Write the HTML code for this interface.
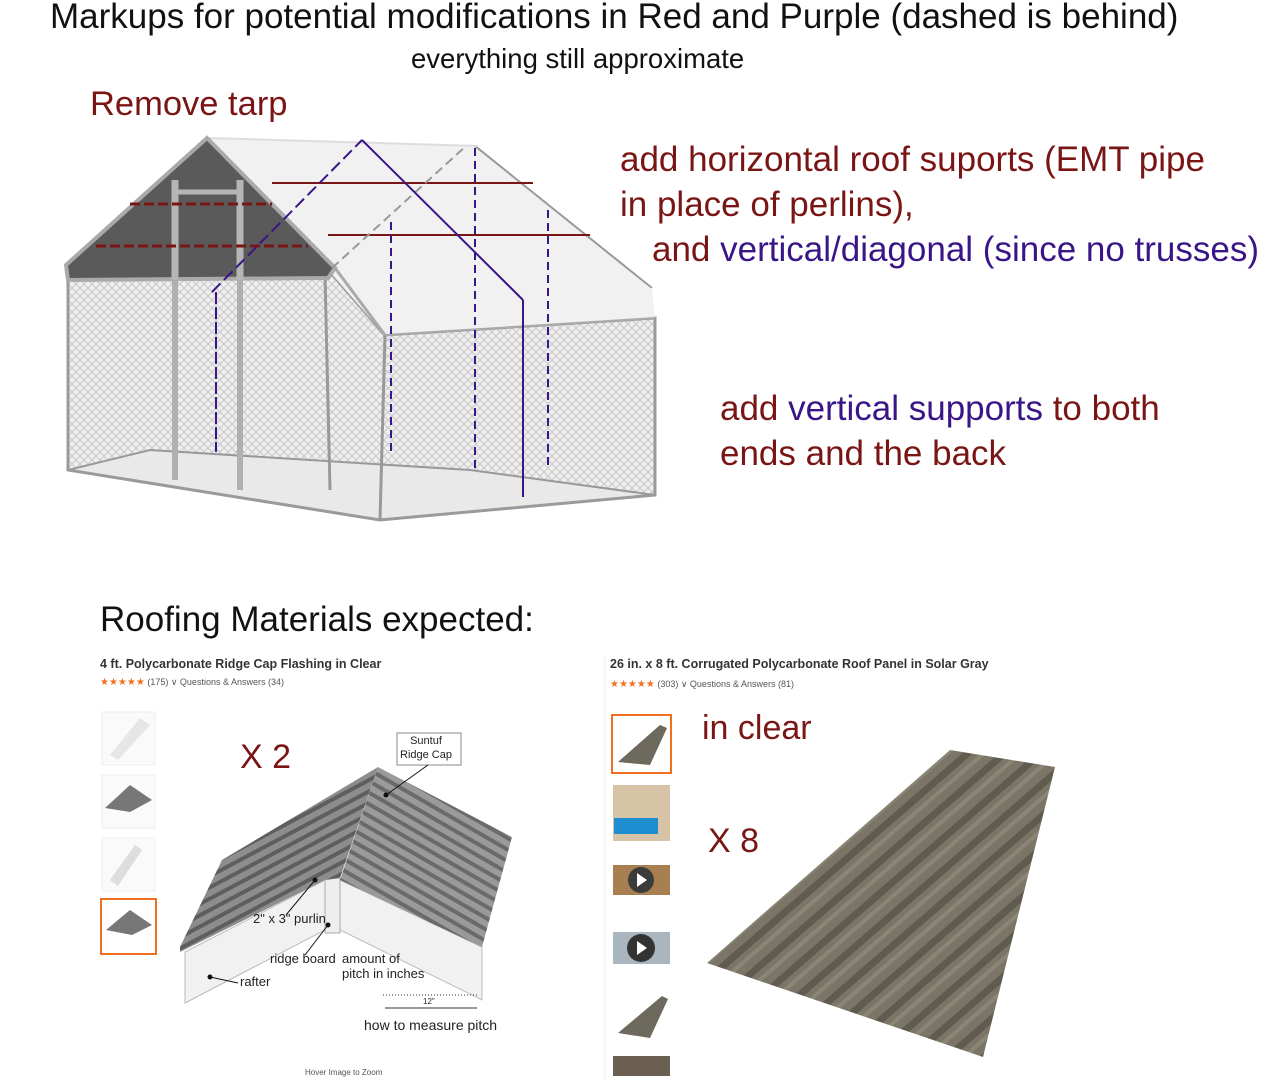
<!DOCTYPE html>
<html><head><meta charset="utf-8"><style>
html,body{margin:0;padding:0;background:#fff;}
body{width:1273px;height:1080px;overflow:hidden;position:relative;font-family:"Liberation Sans",sans-serif;}
.t{position:absolute;white-space:nowrap;}
.r{color:#7a1515;}
.p{color:#3a1587;}
</style></head><body>
<svg width="1273" height="1080" style="position:absolute;left:0;top:0">
<defs>
<pattern id="mesh" width="8" height="8" patternUnits="userSpaceOnUse">
<rect width="8" height="8" fill="#efefef"/>
<path d="M0 0L8 8M8 0L0 8" stroke="#c8c8c8" stroke-width="1"/>
</pattern>
<pattern id="corr" width="10" height="10" patternUnits="userSpaceOnUse" patternTransform="rotate(-28)">
<rect width="10" height="10" fill="#8d8d8d"/>
<rect width="10" height="4" fill="#5e5e5e"/>
</pattern>
<pattern id="corr2" width="10" height="10" patternUnits="userSpaceOnUse" patternTransform="rotate(30)">
<rect width="10" height="10" fill="#9a9a9a"/>
<rect width="10" height="4" fill="#6a6a6a"/>
</pattern>
<pattern id="pan" width="24" height="24" patternUnits="userSpaceOnUse" patternTransform="rotate(49)">
<rect width="24" height="24" fill="#7a7566"/>
<rect width="7" height="24" fill="#5f5b4f"/>
<rect x="12" width="4" height="24" fill="#8a8574"/>
</pattern>
</defs>
<polygon points="68,280 330,272 385,335 655,318 655,495 380,520 68,470" fill="url(#mesh)"/>
<polygon points="68,470 380,520 655,495 470,470 150,450" fill="#e9e9e9" stroke="#999" stroke-width="2"/>
<polygon points="68,280 330,272 385,335 655,318 655,495 380,520 68,470" fill="none" stroke="#9a9a9a" stroke-width="3"/>
<line x1="385" y1="335" x2="380" y2="520" stroke="#999" stroke-width="3"/>
<line x1="175" y1="180" x2="175" y2="480" stroke="#b0b0b0" stroke-width="6"/>
<line x1="240" y1="180" x2="240" y2="490" stroke="#b0b0b0" stroke-width="6"/>
<line x1="325" y1="275" x2="330" y2="490" stroke="#999" stroke-width="3"/>
<polygon points="207,138 478,146 652,290 655,318 385,335 330,272" fill="#f1f1f1"/>
<line x1="475" y1="146" x2="652" y2="288" stroke="#999" stroke-width="2"/>
<line x1="207" y1="138" x2="478" y2="146" stroke="#ddd" stroke-width="2"/>
<line x1="385" y1="335" x2="655" y2="318" stroke="#aaa" stroke-width="2"/>
<polygon points="207,138 335,268 328,278 68,280 66,265" fill="#5a5a5a" stroke="#aaa" stroke-width="4"/>
<line x1="175" y1="180" x2="175" y2="280" stroke="#b5b5b5" stroke-width="7"/>
<line x1="240" y1="180" x2="240" y2="280" stroke="#b5b5b5" stroke-width="7"/>
<line x1="175" y1="192" x2="240" y2="192" stroke="#b5b5b5" stroke-width="5"/>
<line x1="335" y1="268" x2="385" y2="335" stroke="#aaa" stroke-width="3"/>
<line x1="272" y1="183" x2="533" y2="183" stroke="#7a1515" stroke-width="2"/>
<line x1="328" y1="235" x2="590" y2="235" stroke="#7a1515" stroke-width="2"/>
<line x1="130" y1="204" x2="272" y2="204" stroke="#7a1515" stroke-width="3" stroke-dasharray="10,4"/>
<line x1="96" y1="246" x2="308" y2="246" stroke="#7a1515" stroke-width="3" stroke-dasharray="10,4"/>
<line x1="332" y1="268" x2="466" y2="146" stroke="#999" stroke-width="2" stroke-dasharray="9,5"/>
<line x1="212" y1="292" x2="362" y2="140" stroke="#3a1587" stroke-width="2" stroke-dasharray="12,5"/>
<line x1="362" y1="140" x2="523" y2="300" stroke="#3a1587" stroke-width="2"/>
<line x1="523" y1="300" x2="523" y2="497" stroke="#3a1587" stroke-width="2"/>
<line x1="216" y1="292" x2="216" y2="452" stroke="#3a1587" stroke-width="2" stroke-dasharray="12,3"/>
<line x1="391" y1="222" x2="391" y2="452" stroke="#3a1587" stroke-width="2" stroke-dasharray="8,5"/>
<line x1="475" y1="148" x2="475" y2="472" stroke="#3a1587" stroke-width="2" stroke-dasharray="8,5"/>
<line x1="548" y1="210" x2="548" y2="466" stroke="#3a1587" stroke-width="2" stroke-dasharray="8,5"/>

<rect x="102" y="712" width="53" height="53" fill="#fafafa" stroke="#eee"/>
<polygon points="110,755 140,718 150,725 118,760" fill="#e6e6e6"/>
<rect x="102" y="775" width="53" height="53" fill="#fafafa" stroke="#eee"/>
<polygon points="105,808 130,785 152,800 130,812" fill="#777"/>
<rect x="102" y="838" width="53" height="53" fill="#fafafa" stroke="#eee"/>
<polygon points="110,880 135,845 142,850 118,886" fill="#ddd"/>
<rect x="101" y="899" width="55" height="55" fill="#fff" stroke="#f07020" stroke-width="2"/>
<polygon points="106,930 130,910 152,925 132,935" fill="#777"/>
<polygon points="185,952 325,880 325,930 185,1003" fill="#f1f1f1" stroke="#bbb"/>
<polygon points="340,880 482,947 482,1000 340,930" fill="#f1f1f1" stroke="#bbb"/>
<rect x="325" y="878" width="15" height="55" fill="#eee" stroke="#aaa"/>
<polygon points="180,947 222,860 378,767 340,878 325,880 180,952" fill="url(#corr)"/>
<polygon points="378,767 512,837 482,947 340,880" fill="url(#corr2)"/>
<rect x="397" y="733" width="64" height="32" fill="#fff" stroke="#888"/>
<line x1="428" y1="765" x2="386" y2="795" stroke="#111"/>
<circle cx="386" cy="795" r="2.5" fill="#111"/>
<line x1="315" y1="880" x2="286" y2="915" stroke="#111"/>
<circle cx="315" cy="880" r="2.5" fill="#111"/>
<line x1="328" y1="925" x2="305" y2="955" stroke="#111"/>
<circle cx="328" cy="925" r="2.5" fill="#111"/>
<line x1="210" y1="977" x2="238" y2="983" stroke="#111"/>
<circle cx="210" cy="977" r="2.5" fill="#111"/>
<line x1="383" y1="995" x2="478" y2="995" stroke="#333" stroke-dasharray="1,2"/>
<line x1="385" y1="1008" x2="477" y2="1008" stroke="#333"/>
<rect x="612" y="715" width="59" height="58" fill="#fff" stroke="#f07020" stroke-width="2"/>
<polygon points="618,762 660,725 667,728 650,765" fill="#6d695d"/>
<rect x="613" y="785" width="57" height="56" fill="#d7c4a6"/>
<rect x="614" y="818" width="44" height="16" fill="#1d8ed0"/>
<rect x="613" y="865" width="57" height="30" fill="#a87f50"/>
<circle cx="641" cy="880" r="13" fill="#3b3b3b"/>
<polygon points="637,873 637,887 647,880" fill="#fff"/>
<rect x="613" y="932" width="57" height="32" fill="#a9b6bf"/>
<circle cx="641" cy="948" r="14" fill="#333"/>
<polygon points="637,941 637,955 647,948" fill="#fff"/>
<polygon points="618,1033 662,996 668,999 650,1038" fill="#6d695d"/>
<rect x="613" y="1056" width="57" height="20" fill="#6a5f50"/>
<line x1="605" y1="655" x2="605" y2="1080" stroke="#eee"/>
<polygon points="707,963 950,750 1055,767 983,1057" fill="url(#pan)"/>
</svg>

<div class="t" style="left:50px;top:-3px;font-size:35px;color:#111;">Markups for potential modifications in Red and Purple (dashed is behind)</div>
<div class="t" style="left:411px;top:43px;font-size:27.5px;color:#111;">everything still approximate</div>
<div class="t r" style="left:90px;top:85px;font-size:34.5px;">Remove tarp</div>
<div class="t r" style="left:620px;top:140px;font-size:35px;">add horizontal roof suports (EMT pipe</div>
<div class="t r" style="left:620px;top:185px;font-size:35px;">in place of perlins),</div>
<div class="t" style="left:652px;top:230px;font-size:35px;"><span class="r">and</span> <span class="p">vertical/diagonal (since no trusses)</span></div>
<div class="t" style="left:720px;top:389px;font-size:35px;"><span class="r">add</span> <span class="p">vertical supports</span> <span class="r">to both</span></div>
<div class="t r" style="left:720px;top:434px;font-size:35px;">ends and the back</div>
<div class="t" style="left:100px;top:600px;font-size:35px;color:#111;">Roofing Materials expected:</div>
<div class="t" style="left:100px;top:657px;font-size:12.5px;font-weight:bold;color:#333;">4 ft. Polycarbonate Ridge Cap Flashing in Clear</div>
<div class="t" style="left:100px;top:677px;font-size:9px;color:#555;"><span style="color:#f07020;font-size:10px">★★★★★</span> (175) ∨ Questions &amp; Answers (34)</div>
<div class="t r" style="left:240px;top:738px;font-size:34px;">X 2</div>
<div class="t" style="left:400px;top:734px;font-size:11px;color:#222;text-align:center;line-height:14px;">Suntuf<br>Ridge Cap</div>
<div class="t" style="left:253px;top:911px;font-size:13px;color:#222;">2" x 3" purlin</div>
<div class="t" style="left:270px;top:951px;font-size:13px;color:#222;">ridge board</div>
<div class="t" style="left:342px;top:951px;font-size:13px;color:#222;line-height:15px;">amount of<br>pitch in inches</div>
<div class="t" style="left:240px;top:974px;font-size:13px;color:#222;">rafter</div>
<div class="t" style="left:423px;top:997px;font-size:8px;color:#222;">12"</div>
<div class="t" style="left:364px;top:1017px;font-size:14px;color:#222;">how to measure pitch</div>
<div class="t" style="left:305px;top:1068px;font-size:8px;color:#555;">Hover Image to Zoom</div>
<div class="t" style="left:610px;top:657px;font-size:12.5px;font-weight:bold;color:#333;">26 in. x 8 ft. Corrugated Polycarbonate Roof Panel in Solar Gray</div>
<div class="t" style="left:610px;top:679px;font-size:9px;color:#555;"><span style="color:#f07020;font-size:10px">★★★★★</span> (303) ∨ Questions &amp; Answers (81)</div>
<div class="t r" style="left:702px;top:709px;font-size:34px;">in clear</div>
<div class="t r" style="left:708px;top:822px;font-size:34px;">X 8</div>
</body></html>
